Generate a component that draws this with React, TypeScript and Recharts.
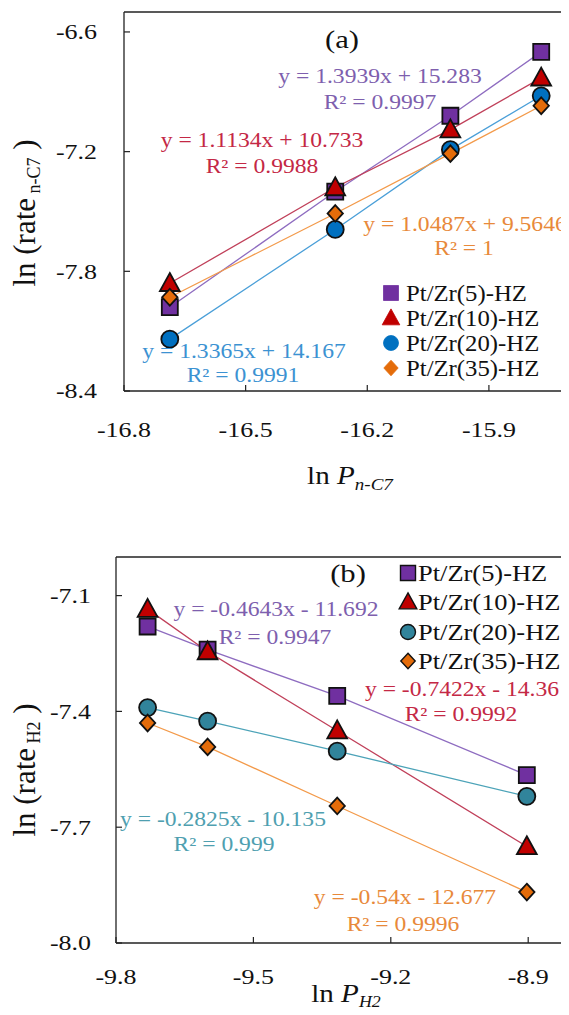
import React from 'react';
import { ScatterChart, Scatter, XAxis, YAxis, ReferenceLine } from 'recharts';

// ---------- data ----------
const seriesNames = ['Pt/Zr(5)-HZ', 'Pt/Zr(10)-HZ', 'Pt/Zr(20)-HZ', 'Pt/Zr(35)-HZ'];

// Panel (a): ln P n-C7 vs ln rate n-C7
const lnPnC7 = [-16.687, -16.279, -15.995, -15.771];
const rateA_Zr5 = [-7.98, -7.4, -7.02, -6.7];
const rateA_Zr10 = [-7.86, -7.38, -7.09, -6.83];
const rateA_Zr20 = [-8.14, -7.59, -7.19, -6.92];
const rateA_Zr35 = [-7.93, -7.51, -7.21, -6.97];
const ticksAX = [-16.8, -16.5, -16.2, -15.9];
const ticksAY = [-8.4, -7.8, -7.2, -6.6];
const eqA = ['y = 1.3939x + 15.283', 'y = 1.1134x + 10.733', 'y = 1.3365x + 14.167', 'y = 1.0487x + 9.5646'];
const r2A = ['R² = 0.9997', 'R² = 0.9988', 'R² = 0.9991', 'R² = 1'];

// Panel (b): ln P H2 vs ln rate H2
const lnPH2 = [-9.731, -9.6, -9.317, -8.903];
const rateB_Zr5 = [-7.18, -7.24, -7.36, -7.565];
const rateB_Zr10 = [-7.135, -7.245, -7.45, -7.75];
const rateB_Zr20 = [-7.39, -7.425, -7.503, -7.62];
const rateB_Zr35 = [-7.43, -7.492, -7.645, -7.868];
const ticksBX = [-9.8, -9.5, -9.2, -8.9];
const ticksBY = [-8.0, -7.7, -7.4, -7.1];
const eqB = ['y = -0.4643x - 11.692', 'y = -0.7422x - 14.36', 'y = -0.2825x - 10.135', 'y = -0.54x - 12.677'];
const r2B = ['R² = 0.9947', 'R² = 0.9992', 'R² = 0.999', 'R² = 0.9996'];

// ---------- styles ----------
const FONT = "'Liberation Serif', 'Times New Roman', serif";
const SX = 1.18;
const fills = ['#7030A0', '#C00000', '#0070C0', '#E46C0A'];
const fillsB = ['#7030A0', '#C00000', '#31849B', '#E46C0A'];
const lineColsA = ['#8E6CC0', '#C0405A', '#4A9FD8', '#F39A4A'];
const lineColsB = ['#8E6CC0', '#C0405A', '#4CA3B8', '#F39A4A'];
const textColsA = ['#7E5FAE', '#C42845', '#3C92D2', '#E8893A'];
const textColsB = ['#7E5FAE', '#C42845', '#4F9FB0', '#E8893A'];
const FRAME = '#222';

const toPts = (xs: number[], ys: number[]) => xs.map((x, i) => ({ x, y: ys[i] }));
const dataA = [rateA_Zr5, rateA_Zr10, rateA_Zr20, rateA_Zr35].map((ys) => toPts(lnPnC7, ys));
const dataB = [rateB_Zr5, rateB_Zr10, rateB_Zr20, rateB_Zr35].map((ys) => toPts(lnPH2, ys));

// ---------- markers ----------
const markerPath = (kind: number, cx: number, cy: number, s: number) => {
  if (kind === 0) return `M${cx - s / 2},${cy - s / 2}h${s}v${s}h${-s}Z`;
  if (kind === 1) {
    const h = s * 0.95;
    return `M${cx},${cy - h * 0.6}L${cx + s * 0.55},${cy + h * 0.45}L${cx - s * 0.55},${cy + h * 0.45}Z`;
  }
  if (kind === 3) {
    const w = s * 0.48;
    const h = s * 0.52;
    return `M${cx},${cy - h}L${cx + w},${cy}L${cx},${cy + h}L${cx - w},${cy}Z`;
  }
  return '';
};

const Marker = ({ kind, cx, cy, fill, size, stroke, sw }: any) => {
  if (cx == null || cy == null) return <g />;
  if (kind === 2) return <circle cx={cx} cy={cy} r={size / 2} fill={fill} stroke={stroke} strokeWidth={sw} />;
  return <path d={markerPath(kind, cx, cy, size)} fill={fill} stroke={stroke} strokeWidth={sw} />;
};

const markerSizes = [16, 18, 17, 16];

// ---------- ticks ----------
const makeXTick = (offset: number) => (p: any) => (
  <g>
    <line x1={p.x} y1={p.y} x2={p.x} y2={p.y - 6} stroke={FRAME} strokeWidth={1.2} />
    <text
      transform={`translate(${p.x},${p.y + offset}) scale(${SX},1)`}
      textAnchor="middle"
      dominantBaseline="central"
      fontSize={22}
      fontFamily={FONT}
      fill="#111"
    >
      {Number(p.payload.value).toFixed(1)}
    </text>
  </g>
);

const makeYTick = (gap: number) => (p: any) => (
  <g>
    <line x1={p.x} y1={p.y} x2={p.x + 6} y2={p.y} stroke={FRAME} strokeWidth={1.2} />
    <text
      transform={`translate(${p.x - gap},${p.y}) scale(${SX},1)`}
      textAnchor="end"
      dominantBaseline="central"
      fontSize={22}
      fontFamily={FONT}
      fill="#111"
    >
      {Number(p.payload.value).toFixed(1)}
    </text>
  </g>
);

// ---------- panel chart ----------
const Panel = ({ data, xDomain, yDomain, xTicks, yTicks, width, height, margin, yAxisWidth, xAxisHeight, xOffset, yGap, lineCols, fillCols }: any) => (
  <ScatterChart width={width} height={height} margin={margin}>
    <XAxis
      type="number"
      dataKey="x"
      domain={xDomain}
      ticks={xTicks}
      allowDataOverflow
      height={xAxisHeight}
      tickSize={0}
      tickMargin={0}
      tickLine={false}
      axisLine={{ stroke: FRAME, strokeWidth: 1.3 }}
      tick={makeXTick(xOffset)}
      interval={0}
    />
    <YAxis
      type="number"
      dataKey="y"
      domain={yDomain}
      ticks={yTicks}
      allowDataOverflow
      width={yAxisWidth}
      tickSize={0}
      tickMargin={0}
      tickLine={false}
      axisLine={{ stroke: FRAME, strokeWidth: 1.3 }}
      tick={makeYTick(yGap)}
      interval={0}
    />
    <ReferenceLine y={yDomain[1]} stroke={FRAME} strokeWidth={1.3} />
    {data.map((pts: any, i: number) => (
      <Scatter
        key={'l' + i}
        name={seriesNames[i] + ' line'}
        data={pts}
        line={{ stroke: lineCols[i], strokeWidth: 1.3 }}
        lineType="joint"
        shape={() => <g />}
        legendType="none"
        isAnimationActive={false}
      />
    ))}
    {data.map((pts: any, i: number) => (
      <Scatter
        key={'m' + i}
        name={seriesNames[i]}
        data={pts}
        shape={(p: any) => <Marker kind={i} cx={p.cx} cy={p.cy} fill={fillCols[i]} size={markerSizes[i]} stroke="#111" sw={1.8} />}
        isAnimationActive={false}
      />
    ))}
  </ScatterChart>
);

// ---------- overlay text ----------
const T = ({ x, y, children, size = 20, color = '#111', anchor = 'middle', sx = SX }: any) => (
  <text
    transform={`translate(${x},${y}) scale(${sx},1)`}
    textAnchor={anchor}
    dominantBaseline="central"
    fontSize={size}
    fontFamily={FONT}
    fill={color}
  >
    {children}
  </text>
);

const eqPosA = [
  [380, 77, 380, 103],
  [262, 141, 262, 167],
  [244, 352, 243, 376],
  [465, 225, 464, 249],
];
const eqPosB = [
  [276, 610, 275, 638],
  [462, 690, 461, 715],
  [223, 820, 224, 845],
  [405, 898, 403, 925],
];

const LegendBlock = ({ x, textX, ys, size, fontSize, sx, cols, outlined }: any) => (
  <g>
    {seriesNames.map((n, i) => (
      <g key={n}>
        <Marker
          kind={i}
          cx={x}
          cy={ys[i]}
          fill={cols[i]}
          size={i === 1 ? size + 1 : size}
          stroke={outlined ? '#111' : cols[i]}
          sw={outlined ? 1.4 : 0.8}
        />
        <T x={textX} y={ys[i]} size={fontSize} anchor="start" sx={sx}>
          {n}
        </T>
      </g>
    ))}
  </g>
);

export default function App() {
  return (
    <div style={{ position: 'relative', width: 569, height: 1015, margin: -8, overflow: 'hidden', background: '#fff' }}>
      <div style={{ position: 'absolute', left: 0, top: 0 }}>
        <Panel
          data={dataA}
          xDomain={[-16.8, -15.7]}
          yDomain={[-8.4, -6.5]}
          xTicks={ticksAX}
          yTicks={ticksAY}
          width={576}
          height={470}
          margin={{ top: 12, right: 6, bottom: 0, left: 0 }}
          yAxisWidth={124}
          xAxisHeight={79}
          xOffset={39}
          yGap={27}
          lineCols={lineColsA}
          fillCols={fills}
        />
      </div>
      <div style={{ position: 'absolute', left: 0, top: 500 }}>
        <Panel
          data={dataB}
          xDomain={[-9.8, -8.8]}
          yDomain={[-8.0, -7.0]}
          xTicks={ticksBX}
          yTicks={ticksBY}
          width={580}
          height={515}
          margin={{ top: 57, right: 6, bottom: 0, left: 0 }}
          yAxisWidth={116}
          xAxisHeight={72}
          xOffset={34}
          yGap={25}
          lineCols={lineColsB}
          fillCols={fillsB}
        />
      </div>
      <svg
        width={569}
        height={1015}
        style={{ position: 'absolute', left: 0, top: 0, pointerEvents: 'none' }}
      >
        {/* Panel (a) */}
        <T x={342} y={39} size={26}>(a)</T>
        {eqA.map((e, i) => (
          <g key={'ea' + i}>
            <T x={eqPosA[i][0]} y={eqPosA[i][1]} size={20} color={textColsA[i]}>{e}</T>
            <T x={eqPosA[i][2]} y={eqPosA[i][3]} size={20} color={textColsA[i]}>{r2A[i]}</T>
          </g>
        ))}
        <LegendBlock x={391} textX={406} ys={[293, 318, 343, 368]} size={15} fontSize={22.5} sx={1.1} cols={fills} outlined={false} />
        <text transform="translate(35,213) rotate(-90)" textAnchor="middle" fontSize={31} fontFamily={FONT} fill="#111">
          ln (rate<tspan fontSize={18} dy={5}> n-C7</tspan><tspan dy={-5}> )</tspan>
        </text>
        <text x={350} y={484} textAnchor="middle" fontSize={26} fontFamily={FONT} fill="#111" transform="translate(350,0) scale(1.12,1) translate(-350,0)">
          ln <tspan fontStyle="italic">P</tspan><tspan fontStyle="italic" fontSize={17} dy={6}>n-C7</tspan>
        </text>

        {/* Panel (b) */}
        <T x={348} y={573} size={26}>(b)</T>
        {eqB.map((e, i) => (
          <g key={'eb' + i}>
            <T x={eqPosB[i][0]} y={eqPosB[i][1]} size={20} color={textColsB[i]}>{e}</T>
            <T x={eqPosB[i][2]} y={eqPosB[i][3]} size={20} color={textColsB[i]}>{r2B[i]}</T>
          </g>
        ))}
        <LegendBlock x={408} textX={418} ys={[573, 602, 632, 661]} size={15} fontSize={23} sx={1.15} cols={fillsB} outlined={true} />
        <text transform="translate(35,770) rotate(-90)" textAnchor="middle" fontSize={31} fontFamily={FONT} fill="#111">
          ln (rate<tspan fontSize={18} dy={5}> H2</tspan><tspan dy={-5}> )</tspan>
        </text>
        <text x={346} y={1002} textAnchor="middle" fontSize={26} fontFamily={FONT} fill="#111" transform="translate(346,0) scale(1.12,1) translate(-346,0)">
          ln <tspan fontStyle="italic">P</tspan><tspan fontStyle="italic" fontSize={16} dy={5}>H2</tspan>
        </text>
      </svg>
    </div>
  );
}
